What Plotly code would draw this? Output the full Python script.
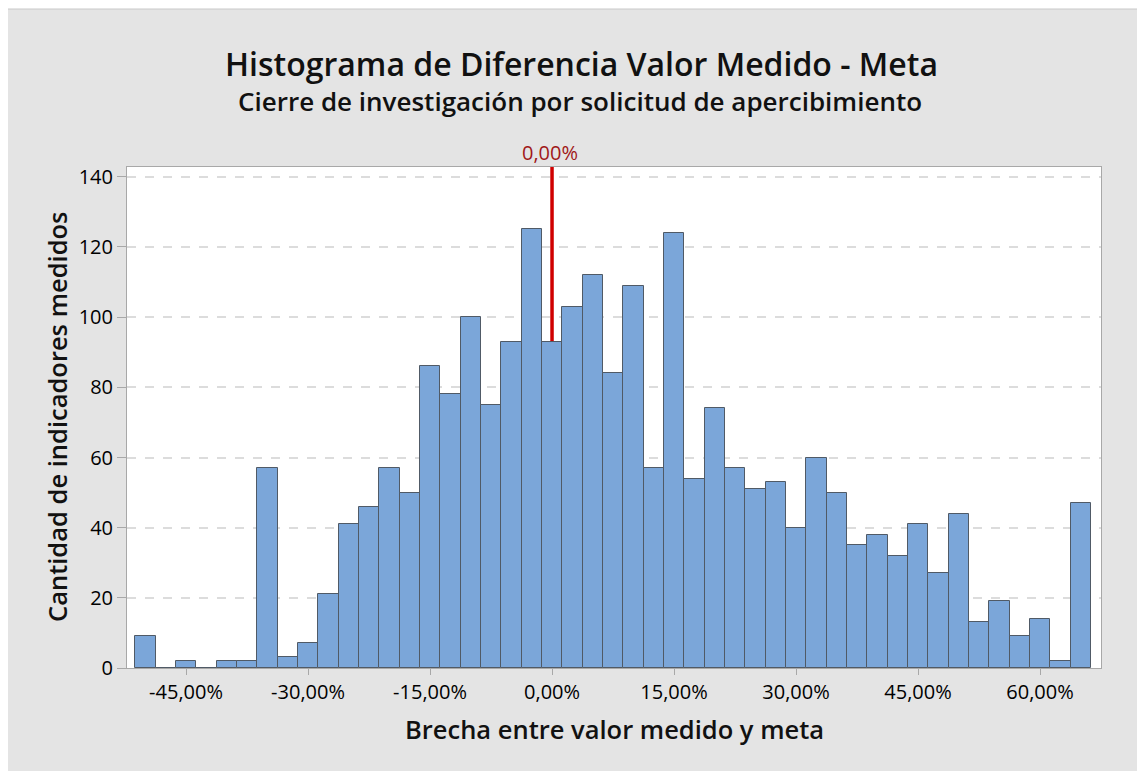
import plotly.graph_objects as go

# ---- data ----
bin_centers = [-50.0, -47.5, -45.0, -42.5, -40.0, -37.5, -35.0, -32.5, -30.0, -27.5,
               -25.0, -22.5, -20.0, -17.5, -15.0, -12.5, -10.0, -7.5, -5.0, -2.5,
               0.0, 2.5, 5.0, 7.5, 10.0, 12.5, 15.0, 17.5, 20.0, 22.5,
               25.0, 27.5, 30.0, 32.5, 35.0, 37.5, 40.0, 42.5, 45.0, 47.5,
               50.0, 52.5, 55.0, 57.5, 60.0, 62.5, 65.0]
counts = [9, 0, 2, 0, 2, 2, 57, 3, 7, 21,
          41, 46, 57, 50, 86, 78, 100, 75, 93, 125,
          93, 103, 112, 84, 109, 57, 124, 54, 74, 57,
          51, 53, 40, 60, 50, 35, 38, 32, 41, 27,
          44, 13, 19, 9, 14, 2, 47]
x_tickvals = [-45, -30, -15, 0, 15, 30, 45, 60]
x_ticktext = ["-45,00%", "-30,00%", "-15,00%", "0,00%", "15,00%", "30,00%", "45,00%", "60,00%"]
y_tickvals = [0, 20, 40, 60, 80, 100, 120, 140]
ref_value = 0.0
ref_label = "0,00%"

title = "Histograma de Diferencia Valor Medido - Meta"
subtitle = "Cierre de investigación por solicitud de apercibimiento"
x_title = "Brecha entre valor medido y meta"
y_title = "Cantidad de indicadores medidos"

# ---- layout geometry (page pixels; page body has an 8px margin) ----
OFF = 8
W, H = 1145 - OFF, 771 - OFF
L, R, T, B = 127 - OFF, 1101 - OFF, 167 - OFF, 668 - OFF
pw, ph = R - L, B - T

def px_x(page_x):
    return (page_x - OFF - L) / pw

def px_y(page_y):
    return (B - (page_y - OFF)) / ph

FONT = "Open Sans"

fig = go.Figure()
fig.add_trace(go.Bar(
    x=bin_centers, y=counts, width=2.5,
    marker=dict(color="#7BA6D9", line=dict(color="#505a66", width=1)),
    hoverinfo="x+y",
))

shapes = [
    # white strip above the gray panel, with its border line
    dict(type="rect", xref="paper", yref="paper", layer="below",
         x0=px_x(0), x1=px_x(1160), y0=px_y(9), y1=px_y(0),
         fillcolor="white", line=dict(width=0)),
    dict(type="line", xref="paper", yref="paper", layer="below",
         x0=px_x(0), x1=px_x(1160), y0=px_y(9), y1=px_y(9),
         line=dict(color="#c8c8c8", width=1)),
    # white plotting area
    dict(type="rect", xref="paper", yref="paper", layer="below",
         x0=0, x1=1, y0=0, y1=1, fillcolor="white", line=dict(width=0)),
    # reference line
    dict(type="line", xref="x", yref="paper", layer="between",
         x0=ref_value, x1=ref_value, y0=0, y1=1,
         line=dict(color="#d00000", width=3.5)),
]

annotations = [
    dict(text=title, xref="paper", yref="paper", x=px_x(581), y=px_y(63),
         showarrow=False, xanchor="center", yanchor="middle",
         font=dict(family=FONT, size=32, color="#111111", weight=600)),
    dict(text=subtitle, xref="paper", yref="paper", x=px_x(580), y=px_y(101),
         showarrow=False, xanchor="center", yanchor="middle",
         font=dict(family=FONT, size=26, color="#111111", weight=600)),
    dict(text=x_title, xref="paper", yref="paper", x=px_x(614), y=px_y(729),
         showarrow=False, xanchor="center", yanchor="middle",
         font=dict(family=FONT, size=25.5, color="#111111", weight=600)),
    dict(text=y_title, xref="paper", yref="paper", x=px_x(57), y=px_y(417),
         showarrow=False, xanchor="center", yanchor="middle", textangle=-90,
         font=dict(family=FONT, size=25.5, color="#111111", weight=600)),
    dict(text=ref_label, xref="x", yref="paper", x=ref_value - 0.3, y=px_y(153),
         showarrow=False, xanchor="center", yanchor="middle",
         font=dict(family=FONT, size=20, color="#a01818")),
]

fig.update_layout(
    width=W, height=H,
    margin=dict(l=L, r=W - R, t=T, b=H - B, pad=0),
    paper_bgcolor="#e4e4e4",
    plot_bgcolor="rgba(0,0,0,0)",
    bargap=0,
    showlegend=False,
    shapes=shapes,
    annotations=annotations,
    font=dict(family=FONT, color="black"),
    xaxis=dict(
        range=[-52.26, 67.5], tickvals=x_tickvals, ticktext=x_ticktext,
        showgrid=False, zeroline=False,
        showline=True, linecolor="#a8a8a8", linewidth=1, mirror=True,
        ticks="outside", ticklen=6, tickcolor="#a8a8a8",
        tickfont=dict(family=FONT, size=20, color="black"),
    ),
    yaxis=dict(
        range=[0, 142.8], tickvals=y_tickvals,
        showgrid=True, gridcolor="#dcdcdc", griddash="dash", gridwidth=1.5,
        zeroline=False,
        showline=True, linecolor="#a8a8a8", linewidth=1, mirror=True,
        ticks="outside", ticklen=9, tickcolor="#a8a8a8",
        tickfont=dict(family=FONT, size=20, color="black"),
    ),
)

fig.write_html("out.html")
